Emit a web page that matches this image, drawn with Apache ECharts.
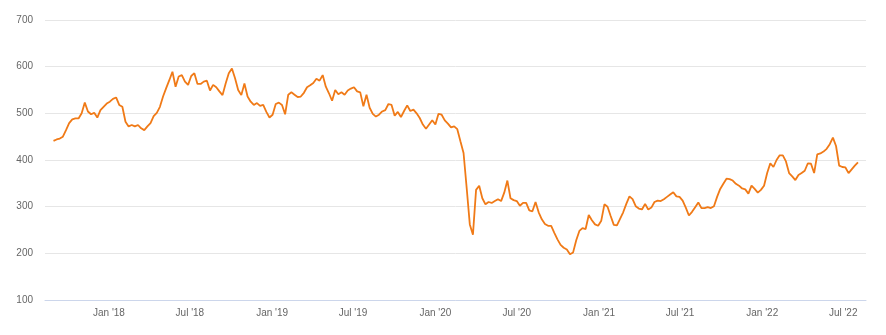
<!DOCTYPE html>
<html>
<head>
<meta charset="utf-8">
<script src="https://cdn.jsdelivr.net/npm/echarts@6/dist/echarts.min.js"></script>
<style>
html,body{margin:0;padding:0;background:#fff;}
#chart{width:886px;height:335px;}
</style>
</head>
<body>
<div id="chart"></div>
<script>
// Weekly closing prices, first week starting 2017-08-30
const firstWeek = '2017-08-30';
const weeklyClose = [
  441, 444, 446, 450, 464, 479, 487, 489, 489, 500, 523, 504, 498, 501, 491, 507,
  514, 521, 525, 531, 534, 518, 514, 482, 472, 475, 472, 475, 468, 464, 472, 479,
  494, 501, 514, 536, 554, 571, 589, 557, 579, 582, 568, 561, 580, 586, 563, 563,
  568, 570, 549, 561, 556, 547, 539, 564, 586, 596, 575, 550, 539, 564, 536, 525,
  518, 522, 516, 518, 503, 491, 497, 520, 523, 518, 498, 540, 545, 540, 535, 536,
  544, 556, 560, 565, 574, 570, 582, 557, 543, 527, 550, 541, 545, 540, 549, 553,
  556, 547, 545, 515, 540, 512, 499, 493, 497, 504, 507, 520, 518, 495, 503, 492,
  505, 517, 505, 508, 500, 490, 476, 467, 476, 485, 476, 499, 497, 485, 478,
  470, 472, 466, 440, 415, 340, 262, 240, 336, 345, 318, 305, 310, 308, 312, 316,
  312, 330, 356, 318, 314, 312, 302, 308, 308, 292, 290, 310, 288, 273, 263, 259,
  259, 244, 230, 218, 212, 208, 198, 202, 228, 248, 254, 252, 282, 271, 262, 259,
  270, 305, 300, 280, 261, 260, 274, 288, 306, 322, 316, 301, 296, 294, 306, 294,
  298, 310, 313, 312, 316, 321, 326, 331, 322, 321, 313, 298, 281, 289, 299, 309,
  297, 297, 299, 297, 301, 321, 338, 349, 360, 359, 356, 349, 345, 339, 337, 328,
  345, 338, 330, 336, 345, 372, 393, 385, 400, 410, 410, 397, 372, 365, 357, 368,
  372, 377, 393, 392, 372, 412, 414, 418, 424, 434, 448, 430, 388, 385, 384, 372,
  380, 388, 395
];
const tickDates = ['2018-01-01','2018-07-01','2019-01-01','2019-07-01','2020-01-01',
  '2020-07-01','2021-01-01','2021-07-01','2022-01-01','2022-07-01'];
const axisStart = '2017-08-11';
const axisEnd = '2022-08-21';
const yTicks = [100, 200, 300, 400, 500, 600, 700];

const monthNames = ['Jan','Feb','Mar','Apr','May','Jun','Jul','Aug','Sep','Oct','Nov','Dec'];
const toTs = s => { const p = s.split('-').map(Number); return Date.UTC(p[0], p[1]-1, p[2]); };
const DAY = 86400000;
const start = toTs(firstWeek);
const seriesData = weeklyClose.map((v, i) => [start + i * 7 * DAY, v]);

const chart = echarts.init(document.getElementById('chart'));
chart.setOption({
  animation: false,
  grid: {left: 45, right: 20, top: 20, bottom: 35},
  xAxis: {
    type: 'value',
    min: toTs(axisStart),
    max: toTs(axisEnd),
    axisLine: {show: true, lineStyle: {color: '#ccd6eb', width: 1}},
    axisTick: {show: false},
    splitLine: {show: false},
    axisLabel: {
      customValues: tickDates.map(toTs),
      color: '#666666',
      fontSize: 10,
      fontFamily: 'Liberation Sans, Arial, sans-serif',
      margin: 8,
      formatter: function (val) {
        const d = new Date(val);
        return monthNames[d.getUTCMonth()] + " '" + String(d.getUTCFullYear()).slice(2);
      }
    }
  },
  yAxis: {
    type: 'value',
    min: yTicks[0],
    max: yTicks[yTicks.length - 1],
    interval: 100,
    axisLine: {show: false},
    axisTick: {show: false},
    splitLine: {lineStyle: {color: '#e6e6e6', width: 1}},
    axisLabel: {
      color: '#666666',
      fontSize: 10,
      fontFamily: 'Liberation Sans, Arial, sans-serif',
      margin: 12
    }
  },
  series: [{
    type: 'line',
    data: seriesData,
    showSymbol: false,
    lineStyle: {color: '#f07a17', width: 1.8},
    itemStyle: {color: '#f07a17'}
  }]
});
</script>
</body>
</html>
